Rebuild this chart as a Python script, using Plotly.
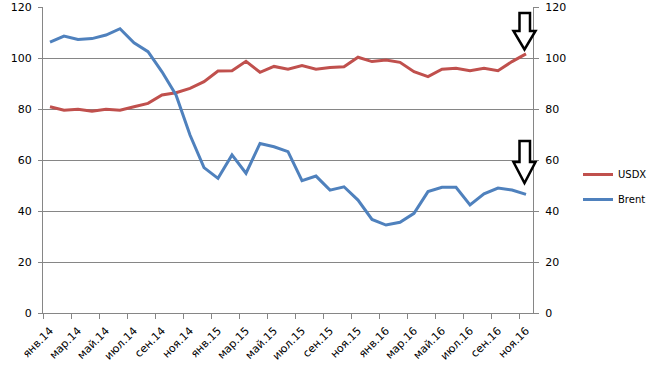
import plotly.graph_objects as go

months = ["янв", "фев", "мар", "апр", "май", "июн", "июл", "авг", "сен", "окт", "ноя", "дек"]
categories = [f"{m}.{y}" for y in ("14", "15", "16") for m in months][:35]

usdx = [80.9, 79.5, 79.9, 79.1, 79.9, 79.5, 80.9, 82.2, 85.5, 86.4, 88.1, 90.7,
        94.9, 95.0, 98.7, 94.4, 96.7, 95.6, 97.0, 95.6, 96.3, 96.6, 100.3, 98.6,
        99.2, 98.3, 94.6, 92.7, 95.6, 96.0, 95.0, 96.0, 95.0, 98.6, 101.6]
brent = [106.2, 108.6, 107.3, 107.6, 109.0, 111.5, 106.0, 102.5, 94.6, 85.5, 69.8, 57.0,
         52.8, 62.0, 54.8, 66.5, 65.2, 63.3, 51.9, 53.7, 48.2, 49.5, 44.3, 36.7,
         34.5, 35.6, 39.1, 47.6, 49.3, 49.3, 42.4, 46.7, 49.0, 48.2, 46.5]

y_ticks = [0, 20, 40, 60, 80, 100, 120]

FONT = "DejaVu Sans"
GRID = "#868686"

fig = go.Figure()
fig.add_trace(go.Scatter(x=categories, y=usdx, name="USDX", mode="lines",
                         line=dict(color="#C0504D", width=3), legendgroup="a"))
fig.add_trace(go.Scatter(x=categories, y=brent, name="Brent", mode="lines",
                         line=dict(color="#4F81BD", width=3), legendgroup="b"))
# invisible trace to activate right axis
fig.add_trace(go.Scatter(x=categories, y=usdx, yaxis="y2", mode="lines",
                         line=dict(width=0), showlegend=False, hoverinfo="skip", opacity=0))

L, R, T, B = 43, 121, 7, 61
W, H = 654, 374
pw, ph = W - L - R, H - T - B

def px(x):
    return (x - L) / pw

def py(y):
    return (H - B - y) / ph

def arrow_path(top, head_top, tip):
    sx0, sx1 = 519.5, 530.0
    hx0, hx1 = 513.5, 535.5
    cx = (hx0 + hx1) / 2
    pts = [(sx0, top), (sx1, top), (sx1, head_top), (hx1, head_top), (cx, tip),
           (hx0, head_top), (sx0, head_top)]
    return "M " + " L ".join(f"{px(a):.5f},{py(b):.5f}" for a, b in pts) + " Z"

shapes = [
    dict(type="path", xref="paper", yref="paper", path=arrow_path(13, 31, 49.5),
         line=dict(color="black", width=2.5), fillcolor="white"),
    dict(type="path", xref="paper", yref="paper", path=arrow_path(141, 162, 183),
         line=dict(color="black", width=2.5), fillcolor="white"),
]

fig.update_layout(
    width=W, height=H,
    margin=dict(l=L, r=R, t=T, b=B, autoexpand=False),
    plot_bgcolor="white", paper_bgcolor="white",
    font=dict(family=FONT, size=11, color="black"),
    showlegend=True,
    legend=dict(x=px(578), y=py(187), xanchor="left", yanchor="middle",
                traceorder="grouped", tracegroupgap=6,
                font=dict(family=FONT, size=10, color="black"),
                bgcolor="rgba(0,0,0,0)"),
    xaxis=dict(type="category", range=[-0.5, 34.5], tickmode="linear", dtick=2, tick0=0,
               tickson="boundaries", ticks="outside", ticklen=5, tickcolor=GRID,
               tickangle=-45, ticklabelstandoff=6, showgrid=False, showline=True,
               linecolor=GRID, linewidth=1, zeroline=False, automargin=False),
    yaxis=dict(range=[0, 120], tickvals=y_ticks, showgrid=True, gridcolor=GRID, gridwidth=1,
               showline=True, linecolor=GRID, ticks="outside", ticklen=4, tickcolor=GRID,
               ticklabelstandoff=4, zeroline=False, automargin=False),
    yaxis2=dict(range=[0, 120], tickvals=y_ticks, overlaying="y", side="right", showgrid=False,
                showline=True, linecolor=GRID, ticks="outside", ticklen=5, tickcolor=GRID,
                ticklabelstandoff=4, zeroline=False, automargin=False),
    shapes=shapes,
)

fig.write_html("out.html", config={"displayModeBar": False},
               post_script="document.body.style.margin='0';")
